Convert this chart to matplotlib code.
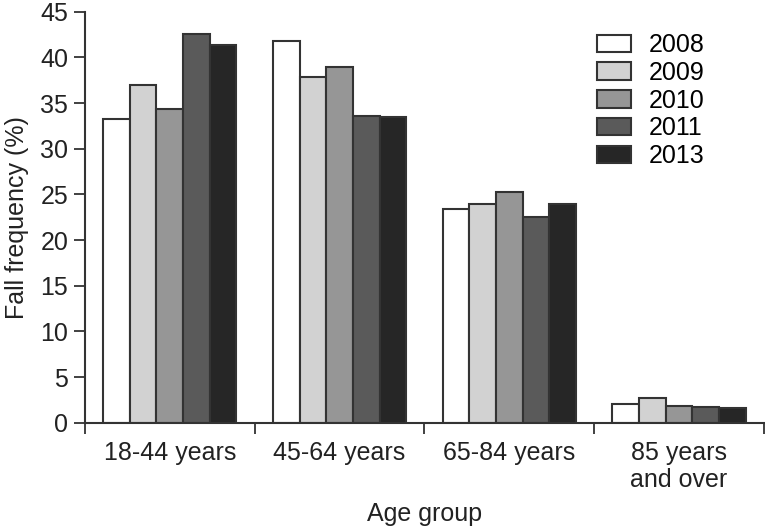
import matplotlib.pyplot as plt
import numpy as np

plt.rcParams['font.family'] = ['Liberation Sans', 'DejaVu Sans']

groups = ["18-44 years", "45-64 years", "65-84 years", "85 years\nand over"]
years = ["2008", "2009", "2010", "2011", "2013"]
values = [
    [33.3, 41.8, 23.4, 2.0],   # 2008
    [37.0, 37.8, 23.9, 2.7],   # 2009
    [34.3, 39.0, 25.3, 1.8],   # 2010
    [42.6, 33.6, 22.5, 1.7],   # 2011
    [41.4, 33.5, 24.0, 1.6],   # 2013
]
colors = ["#ffffff", "#d2d2d2", "#969696", "#5a5a5a", "#262626"]

fig = plt.figure(figsize=(7.65, 5.28), dpi=100)
ax = fig.add_axes([0.111, 0.1994, 0.8876, 0.7784])

x = np.arange(len(groups))
w = 0.157
for i, yr in enumerate(years):
    ax.bar(x + (i - 2) * w, values[i], w, color=colors[i], edgecolor="#333333",
           linewidth=1.5, label=yr)

ax.set_xlim(-0.5, 3.5)
ax.set_ylim(0, 45)
ax.set_yticks(range(0, 46, 5))
ax.set_xticks(np.arange(-0.5, 4, 1))
ax.set_xticklabels([])
ax.set_xticks(x, minor=True)
ax.set_xticklabels(groups, minor=True, fontsize=18, color="#222222")
for t in ax.get_xticklabels(minor=True):
    t.set_linespacing(1.18)
ax.tick_params(axis="x", which="minor", length=0, pad=13)
ax.tick_params(axis="x", which="major", length=8, width=1.3, color="#333333")
ax.tick_params(axis="y", length=8, width=1.3, color="#333333", labelsize=18,
               labelcolor="#222222", pad=4)

for s in ["top", "right"]:
    ax.spines[s].set_visible(False)
for s in ["left", "bottom"]:
    ax.spines[s].set_linewidth(1.5)
    ax.spines[s].set_color("#333333")

ax.set_ylabel("Fall frequency (%)", fontsize=18, color="#222222", labelpad=8)
ax.set_xlabel("Age group", fontsize=18, color="#222222", labelpad=7)

ax.legend(loc="upper left", bbox_to_anchor=(597 / 765, 1 - 33 / 528),
          bbox_transform=fig.transFigure, frameon=False, borderpad=0,
          borderaxespad=0, fontsize=18, handlelength=1.34, handleheight=0.7,
          labelspacing=0.15, handletextpad=0.75)

fig.savefig("out.png", dpi=100)
